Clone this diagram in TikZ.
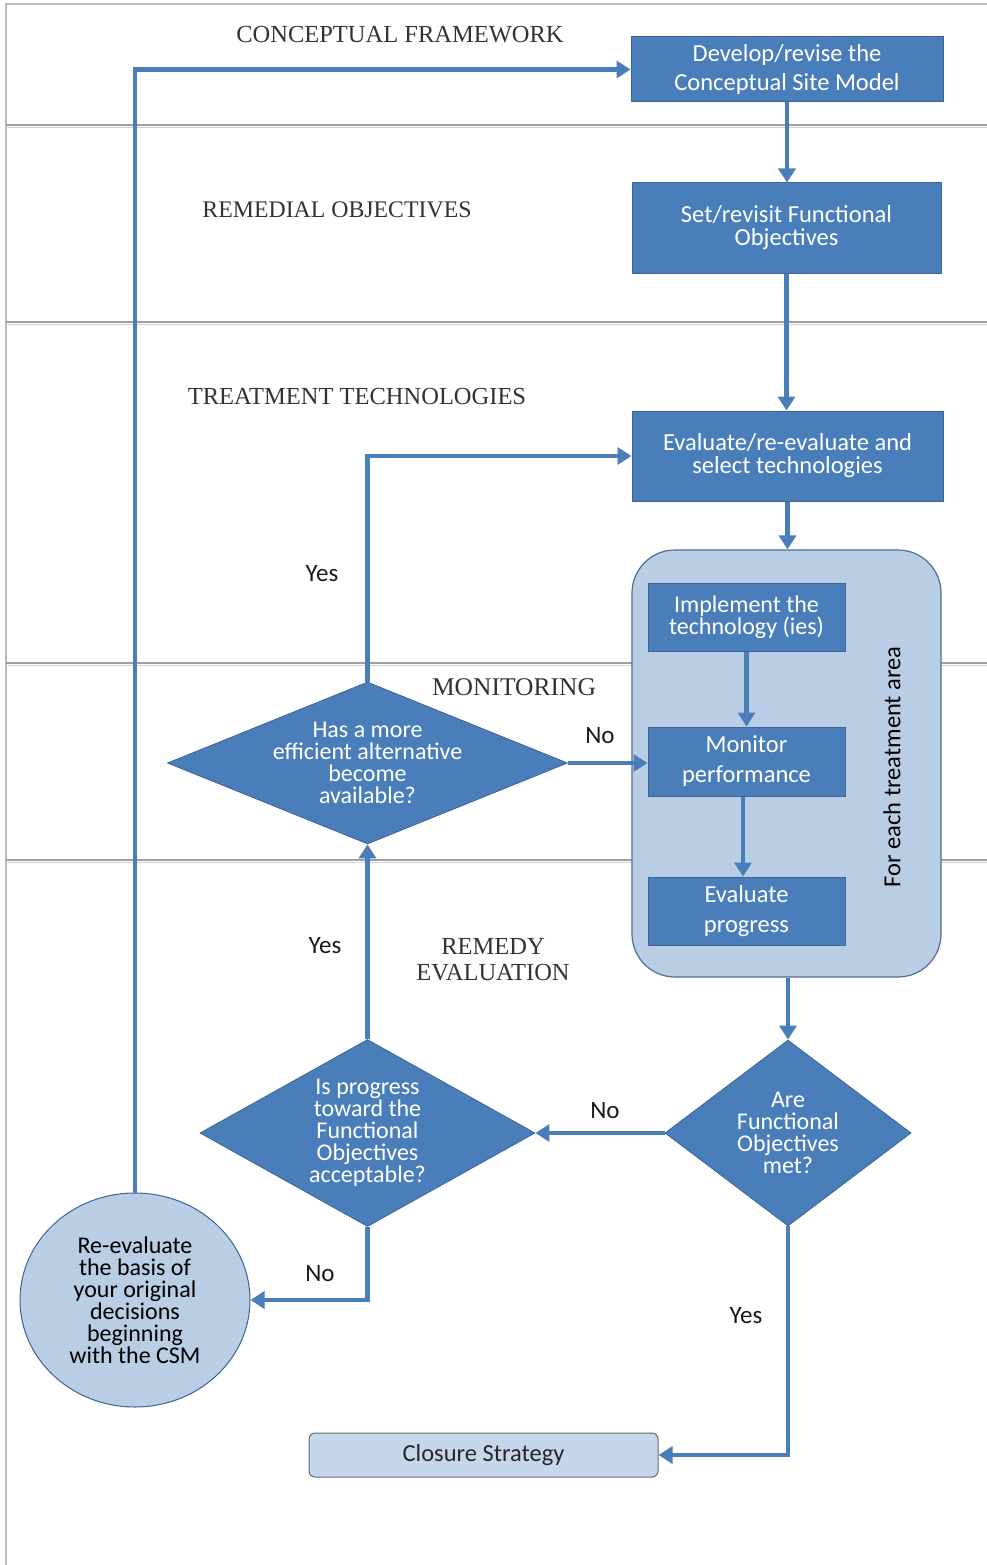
\documentclass[tikz,border=0pt]{standalone}
\usepackage{fontspec}
\setmainfont{Carlito}
\newfontfamily\secfont{Liberation Serif}
\usetikzlibrary{shapes.geometric,arrows.meta}
\definecolor{boxblue}{RGB}{74,126,187}
\definecolor{boxedge}{RGB}{60,100,150}
\definecolor{lightblue}{RGB}{185,205,229}
\definecolor{closfill}{RGB}{198,214,236}
\definecolor{contedge}{RGB}{80,110,150}
\definecolor{arrblue}{RGB}{74,126,187}
\begin{document}
\begin{tikzpicture}[x=1pt,y=-1pt,
  box/.style={draw=boxedge, fill=boxblue, text=white, align=center, inner sep=0pt, line width=1pt, font=\fontsize{24.5}{23}\selectfont},
  dia/.style={diamond, draw=boxedge, fill=boxblue, line width=0.8pt, inner sep=0pt},
  dtext/.style={text=white, align=center, font=\fontsize{24}{22}\selectfont, inner sep=0pt},
  arr/.style={draw=arrblue, line width=4.5pt, -{Triangle[length=14pt,width=17pt]}},
  lbl/.style={text=black!90, font=\fontsize{25}{25}\selectfont, inner sep=0pt},
  sec/.style={text=black!80, font=\secfont\fontsize{24.5}{26}\selectfont, align=center, inner sep=0pt},
  sepline/.style={draw=gray!75, line width=2pt}
]
\useasboundingbox (0,0) rectangle (987,1565);
\fill[white] (0,0) rectangle (987,1565);
% frame
\draw[draw=gray!55, line width=1.2pt] (987,4) -- (6,4) -- (6,1565);
% section separators
\foreach \yy in {125,322,663,860}{
  \draw[sepline] (6,\yy) -- (987,\yy);
  \draw[draw=gray!35, line width=1pt] (6,\yy+2.5) -- (987,\yy+2.5);
}
% section labels
\node[sec] (s1) at (400,35) {CONCEPTUAL FRAMEWORK};
\node[sec, font=\secfont\fontsize{23.8}{26}\selectfont] (s2) at (337,210) {REMEDIAL OBJECTIVES};
\node[sec] (s3) at (357,397) {TREATMENT TECHNOLOGIES};
\node[sec, font=\secfont\fontsize{25.5}{26}\selectfont] (s4) at (514,687) {MONITORING};
\node[sec] (s5) at (493,960) {REMEDY\\EVALUATION};

% boxes
\node[box, minimum width=312pt, minimum height=65pt, font=\fontsize{24.5}{29}\selectfont] (csm) at (787,69.5) {Develop/revise the\\Conceptual Site Model};
\node[box, minimum width=309pt, minimum height=90pt] (setfo) at (786.5,228) {Set/revisit Functional\\Objectives};
\node[box, minimum width=311pt, minimum height=90pt] (evalt) at (787.5,456) {Evaluate/re-evaluate and\\select technologies};
% container
\node[draw=contedge, fill=lightblue, line width=1.2pt, rounded corners=43pt, minimum width=309pt, minimum height=427pt, inner sep=0pt] (cont) at (786.5,763.5) {};
\node[box, minimum width=197pt, minimum height=68pt, font=\fontsize{24}{22}\selectfont] (impl) at (746.5,617) {Implement the\\technology (ies)};
\node[box, minimum width=197pt, minimum height=69pt, font=\fontsize{24.5}{30}\selectfont] (mon) at (746.5,761.5) {Monitor\\performance};
\node[box, minimum width=197pt, minimum height=68pt, font=\fontsize{24.5}{30}\selectfont] (evp) at (746.5,911) {Evaluate\\progress};
\node[text=black, rotate=90, font=\fontsize{24.5}{24}\selectfont, inner sep=0pt] (fe) at (892,767) {For each treatment area};

% diamonds
\node[dia, minimum width=400pt, minimum height=162pt,
  label={[dtext]center:Has a more\\efficient alternative\\become\\available?}] (d1) at (367.5,763) {};
\node[dia, minimum width=335pt, minimum height=187pt,
  label={[dtext]center:Is progress\\toward the\\Functional\\Objectives\\acceptable?}] (d2) at (367.5,1133) {};
\node[dia, minimum width=246pt, minimum height=186pt,
  label={[dtext]center:Are\\Functional\\Objectives\\met?}] (d3) at (788,1133) {};

% circle
\node[ellipse, draw=boxedge, fill=lightblue, line width=1pt, minimum width=230pt, minimum height=214pt, inner sep=0pt,
  label={[text=black, align=center, font=\fontsize{24}{22}\selectfont, inner sep=0pt]center:Re-evaluate\\the basis of\\your original\\decisions\\beginning\\with the CSM}] (circ) at (135,1300) {};

% closure
\node[draw=gray!80!black, fill=closfill, line width=1pt, rounded corners=6pt, minimum width=349pt, minimum height=44pt, inner sep=0pt, text=black!85, font=\fontsize{24.5}{22}\selectfont] (clos) at (483.5,1455) {Closure Strategy};

% connectors
\draw[arr] (csm.south) -- (csm.south |- setfo.north);
\draw[arr] (setfo.south) -- (setfo.south |- evalt.north);
\draw[arr] (evalt.south) -- (evalt.south |- cont.north);
\draw[arr] (impl.south) -- (impl.south |- mon.north);
\draw[arr] (mon.south -| 743,0) -- (743,0 |- evp.north);
\draw[arr] (cont.south -| 788,0) -- (d3.north);
\draw[arr] (d3.west) -- (d2.east);
\draw[arr] (d2.north) -- (d1.south);
\draw[arr] (d1.east) -- (d1.east -| mon.west);
\draw[arr] (d1.north) |- (evalt.west);
\draw[arr] (d2.south) |- (circ.east);
\draw[arr] (circ.north) |- (csm.west);
\draw[arr] (d3.south) |- (clos.east);

% labels
\node[lbl] (y1) at (322,574) {Yes};
\node[lbl] (y2) at (325,946) {Yes};
\node[lbl] (n1) at (600,736) {No};
\node[lbl] (n2) at (605,1111) {No};
\node[lbl] (n3) at (320,1274) {No};
\node[lbl] (y3) at (746,1316) {Yes};
\end{tikzpicture}
\end{document}
